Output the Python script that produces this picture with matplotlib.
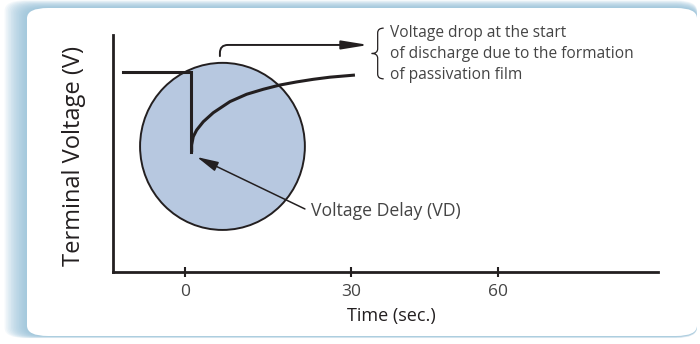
import numpy as np
import matplotlib
matplotlib.use("Agg")
from matplotlib import pyplot as plt
from matplotlib.patches import Ellipse, FancyBboxPatch, PathPatch
from matplotlib.path import Path

plt.rcParams['font.family'] = ['Open Sans', 'DejaVu Sans']

# open-circuit level before discharge, then the drop at t ~ 1 s
t_step = [-11.9, 1.15, 1.15]
v_step = [0.844, 0.844, 0.506]

# recovery of terminal voltage after the drop
t_curve = [1.28, 1.28, 1.59, 2.24, 3.51, 5.42, 8.63, 11.83, 15.01, 18.21, 21.41, 24.59, 27.79, 32.59]
v_curve = [0.506, 0.536, 0.571, 0.599, 0.634, 0.672, 0.719, 0.750, 0.771, 0.789, 0.802, 0.813, 0.822, 0.831]

# highlighted region (centre, width, height in data units)
circle_c = (7.19, 0.53)
circle_w = 31.6
circle_h = 0.705

tick_pos = [0, 31.8, 60]
tick_labels = ['0', '30', '60']

note_text = "Voltage drop at the start\nof discharge due to the formation\nof passivation film"
vd_text = "Voltage Delay (VD)"

ink = '#231f20'
grey = '#444444'

W, H = 700, 344
fig = plt.figure(figsize=(W / 100, H / 100), dpi=100)


def fx(px):
    return px / W


def fy(py):
    return 1 - py / H


# rounded card with a soft blue glow on the left/top
bx0, by0, bx1, by1 = 27, 8, 697, 336
for k in range(14, 0, -1):
    g = FancyBboxPatch((fx(bx0 - 1.6 * k), fy(by1 + 0.15 * k)),
                       fx(bx1 - bx0 + 1.6 * k), (by1 - by0 + 0.7 * k) / H,
                       boxstyle="round,pad=0,rounding_size=0.03",
                       transform=fig.transFigure, facecolor='#86b9d5',
                       edgecolor='none', alpha=0.085, zorder=0)
    fig.patches.append(g)
card = FancyBboxPatch((fx(bx0), fy(by1)), fx(bx1 - bx0), (by1 - by0) / H,
                      boxstyle="round,pad=0,rounding_size=0.03",
                      transform=fig.transFigure, facecolor='white',
                      edgecolor='none', zorder=1)
fig.patches.append(card)

ax = fig.add_axes([fx(113), fy(272), fx(658 - 113), (272 - 35) / H])
ax.set_zorder(5)
ax.patch.set_visible(False)
ax.set_xlim(-13.8, 90.7)
ax.set_ylim(0, 1)

for s in ['top', 'right']:
    ax.spines[s].set_visible(False)
for s in ['left', 'bottom']:
    ax.spines[s].set_linewidth(2)
    ax.spines[s].set_color(ink)

ax.set_xticks(tick_pos)
ax.set_xticklabels(tick_labels)
ax.set_yticks([])
ax.tick_params(axis='x', direction='inout', length=7, width=1.5, color=ink,
               labelsize=12.5, labelcolor=grey, pad=5)

ax.set_ylabel("Terminal Voltage (V)", fontsize=17, color=ink)
ax.yaxis.set_label_coords(-0.049, 0.49)
ax.set_xlabel("Time (sec.)", fontsize=13, color=ink)
ax.xaxis.set_label_coords(0.51, -0.148)

ax.add_patch(Ellipse(circle_c, circle_w, circle_h, facecolor='#b7c8e0',
                     edgecolor=ink, linewidth=1.4, zorder=2))

ax.plot(t_step, v_step, color=ink, linewidth=2.2, solid_joinstyle='miter', zorder=3)
ax.plot(t_curve, v_curve, color=ink, linewidth=2.2, solid_capstyle='butt', zorder=3)

# arrow from the drop to the explanatory note
ax.annotate("", xy=(35.2, 0.958), xytext=(6.7, 0.911),
            arrowprops=dict(arrowstyle='-|>,head_length=1.6,head_width=0.26',
                            connectionstyle='angle,angleA=90,angleB=0,rad=8',
                            color=ink, linewidth=1.4, shrinkA=0, shrinkB=0),
            annotation_clip=False, zorder=4)

# brace in front of the note
xt, ym, hh, bw, r = 35.8, 0.922, 0.107, 2.3, 0.02
xa = xt + bw / 2
verts = [(xt + bw, ym + hh), (xa, ym + hh), (xa, ym + hh - r),
         (xa, ym + r), (xa, ym), (xt, ym),
         (xa, ym), (xa, ym - r),
         (xa, ym - hh + r), (xa, ym - hh), (xt + bw, ym - hh)]
codes = [Path.MOVETO, Path.CURVE3, Path.CURVE3,
         Path.LINETO, Path.CURVE3, Path.CURVE3,
         Path.CURVE3, Path.CURVE3,
         Path.LINETO, Path.CURVE3, Path.CURVE3]
ax.add_patch(PathPatch(Path(verts, codes), facecolor='none', edgecolor=ink,
                       linewidth=0.9, clip_on=False))

ax.text(39.3, 0.92, note_text, fontsize=11.2, color=grey, ha='left',
        va='center', linespacing=1.38, clip_on=False)

# voltage delay pointer
ax.annotate("", xy=(2.3, 0.485), xytext=(23.0, 0.266),
            arrowprops=dict(arrowstyle='-|>,head_length=1.3,head_width=0.3',
                            color=ink, linewidth=1.1, shrinkA=0, shrinkB=0),
            zorder=4)
ax.text(24.15, 0.257, vd_text, fontsize=12.7, color=grey, ha='left', va='center')

fig.savefig("out.png", dpi=100)
